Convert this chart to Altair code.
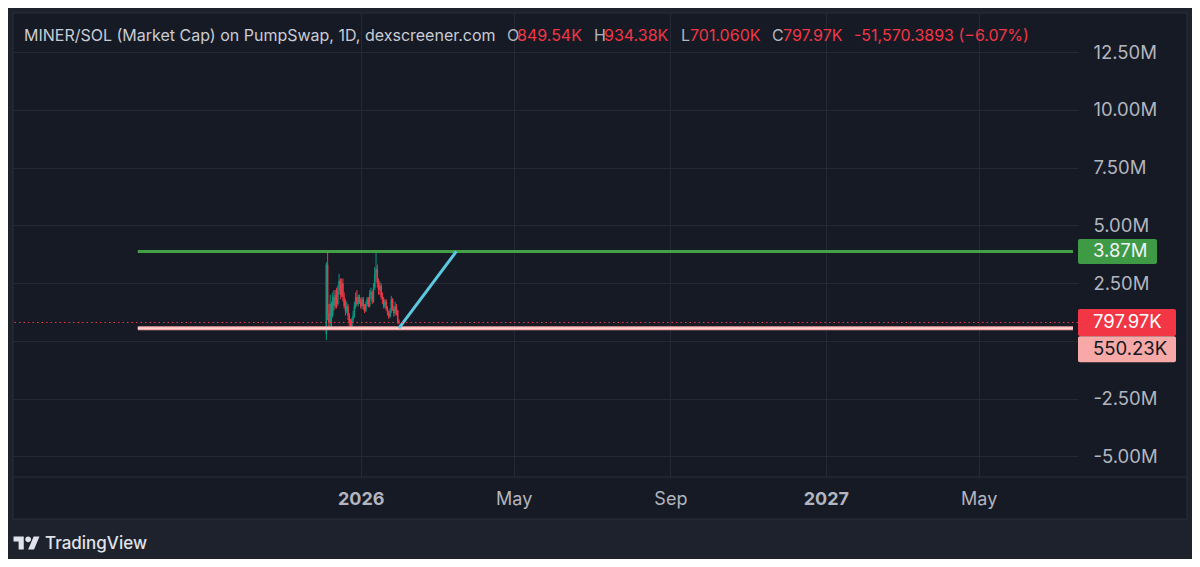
import altair as alt
import pandas as pd

# ---------------- data ----------------
candle_start = "2025-12-05"
opens_m = [0.30, 3.30, 1.20, 0.80, 1.60, 1.10, 1.90, 1.50, 2.00, 1.60,
           2.20, 2.60, 2.00, 2.50, 1.90, 1.50, 1.30, 1.50, 1.10, 0.80,
           0.65, 0.90, 1.10, 1.50, 1.90, 1.60, 1.90, 1.70, 1.50, 1.80,
           1.50, 1.30, 1.60, 1.80, 1.50, 2.00, 2.10, 1.70, 2.30, 2.90,
           3.10, 2.50, 2.20, 2.40, 1.90, 1.80, 1.50, 1.70, 1.40, 1.20,
           1.05, 1.30, 1.80, 1.40, 1.20, 1.50, 1.30, 0.84954]
highs_m = [3.40, 3.87, 1.60, 2.00, 1.70, 2.10, 2.20, 2.20, 2.30, 2.40,
           2.90, 2.70, 2.70, 2.70, 2.10, 1.80, 1.70, 1.60, 1.20, 0.95,
           1.00, 1.30, 1.70, 2.10, 2.20, 2.00, 2.00, 1.85, 1.90, 1.90,
           1.60, 1.70, 1.90, 1.90, 2.20, 2.30, 2.20, 2.50, 3.20, 3.87,
           3.30, 2.70, 2.60, 2.50, 2.10, 1.90, 1.80, 1.80, 1.50, 1.30,
           1.40, 1.95, 1.85, 1.50, 1.70, 1.60, 1.35, 0.93438]
lows_m = [0.04, 0.90, 0.55, 0.60, 0.55, 1.00, 1.30, 1.40, 1.40, 1.50,
          2.00, 1.80, 1.90, 1.70, 1.40, 1.10, 1.20, 0.90, 0.64, 0.60,
          0.60, 0.80, 1.00, 1.40, 1.50, 1.50, 1.60, 1.40, 1.40, 1.35,
          1.20, 1.25, 1.50, 1.45, 1.45, 1.80, 1.60, 1.65, 2.20, 2.60,
          2.30, 2.00, 2.00, 1.80, 1.60, 1.40, 1.40, 1.30, 1.10, 0.95,
          1.00, 1.20, 1.30, 1.05, 1.10, 1.10, 0.75, 0.70106]
closes_m = [3.30, 1.20, 0.80, 1.60, 1.10, 1.90, 1.50, 2.00, 1.60, 2.20,
            2.60, 2.00, 2.50, 1.90, 1.50, 1.30, 1.50, 1.10, 0.80, 0.65,
            0.90, 1.10, 1.50, 1.90, 1.60, 1.90, 1.70, 1.50, 1.80, 1.50,
            1.30, 1.60, 1.80, 1.50, 2.00, 2.10, 1.70, 2.30, 2.90, 3.10,
            2.50, 2.20, 2.40, 1.90, 1.80, 1.50, 1.70, 1.40, 1.20, 1.05,
            1.30, 1.80, 1.40, 1.20, 1.50, 1.30, 0.85, 0.79797]

level_values = [3.87e6, 550.23e3]
level_labels = ["3.87M", "550.23K"]
level_start = "2025-07-10"
level_end = "2027-07-14"

trend_dates = ["2026-01-31", "2026-03-17"]
trend_values = [550.23e3, 3.87e6]

last_close = 797.97e3
last_close_label = "797.97K"

x_domain = ["2025-04-07", "2027-07-14"]
y_domain = [-5.89e6, 14.19e6]
y_ticks = [-5e6, -2.5e6, 0, 2.5e6, 5e6, 7.5e6, 10e6, 12.5e6]
x_ticks = [(2026, 1), (2026, 5), (2026, 9), (2027, 1), (2027, 5)]

title_parts = ["MINER/SOL (Market Cap) on PumpSwap, 1D, dexscreener.com",
               "O", "849.54K", "H", "934.38K", "L", "701.060K",
               "C", "797.97K", "-51,570.3893 (\u22126.07%)"]

# ---------------- style ----------------
W, H = 1065, 464
INNER = "#161A25"
OUTER = "#1E222D"
BORDER = "#2A2E39"
GRID = "#252935"
AXIS_TXT = "#B2B5BE"
UP = "#089981"
DOWN = "#F23645"
FONT = "Inter"
AX_FS = 18.5

dates = pd.date_range(candle_start, periods=len(opens_m), freq="D").strftime("%Y-%m-%d")
candles = pd.DataFrame({
    "date": list(dates),
    "open": [v * 1e6 for v in opens_m],
    "high": [v * 1e6 for v in highs_m],
    "low": [v * 1e6 for v in lows_m],
    "close": [v * 1e6 for v in closes_m],
})
candles["dir"] = ["up" if c >= o else "down" for o, c in zip(candles["open"], candles["close"])]

xscale = alt.Scale(type="utc", domain=x_domain, nice=False)
yscale = alt.Scale(domain=y_domain, nice=False, zero=False)

one = pd.DataFrame({"k": [0]})

x_axis = alt.Axis(
    values=[alt.DateTime(year=y, month=m, date=1, utc=True) for y, m in x_ticks],
    labelExpr="utcFormat(datum.value, '%m') == '01' ? utcFormat(datum.value, '%Y') : utcFormat(datum.value, '%b')",
    labelFontWeight={"condition": {"test": "utcFormat(datum.value, '%m') == '01'", "value": "bold"}, "value": "normal"},
    grid=True, gridColor=GRID, ticks=False, domain=False,
    labelColor=AXIS_TXT, labelFontSize=18, labelFont=FONT, labelPadding=13,
    title=None,
)
y_axis = alt.Axis(
    orient="right", values=y_ticks,
    labelExpr="datum.value == 0 ? '' : (datum.value < 0 ? '-' : '') + format(abs(datum.value) / 1e6, '.2f') + 'M'",
    grid=True, gridColor=GRID, ticks=False, domain=False,
    labelColor=AXIS_TXT, labelFontSize=AX_FS, labelFont=FONT, labelPadding=15,
    labelAlign="left", title=None,
)

# outer strips (frame around the inner panel, footer)
strips = []
for x0, x1, y0, y1 in [(-5, 0, -5, 546), (-5, 1179, -5, 0), (1174, 1179, -5, 546), (-5, 1179, 506, 546)]:
    strips.append(alt.Chart(one).mark_rect(color=OUTER).encode(
        x=alt.value(x0), x2=alt.value(x1), y=alt.value(y0), y2=alt.value(y1)))
frame = alt.Chart(one).mark_rect(fillOpacity=0, stroke=BORDER, strokeWidth=1).encode(
    x=alt.value(0), x2=alt.value(1174), y=alt.value(0), y2=alt.value(506))
sep = alt.Chart(one).mark_rule(color=BORDER, strokeWidth=1).encode(
    x=alt.value(0), x2=alt.value(1174), y=alt.value(464))

color = alt.Color("dir:N", scale=alt.Scale(domain=["up", "down"], range=[UP, DOWN]), legend=None)

wicks = alt.Chart(candles).mark_rule(strokeWidth=1).encode(
    x=alt.X("date:T", scale=xscale, axis=x_axis, title=None),
    y=alt.Y("low:Q", scale=yscale, axis=y_axis, title=None),
    y2="high:Q",
    color=color,
)
bodies = alt.Chart(candles).mark_bar(width=1.5).encode(
    x=alt.X("date:T", title=None),
    y=alt.Y("open:Q", title=None),
    y2="close:Q",
    color=color,
)

levels = pd.DataFrame({"start": [level_start] * 2, "end": [level_end] * 2,
                       "v": level_values, "name": level_labels})
green_line = alt.Chart(levels[levels["name"] == "3.87M"]).mark_rule(color="#43A047", strokeWidth=3).encode(
    x=alt.X("start:T", title=None), x2="end:T", y=alt.Y("v:Q", title=None))
pink_line = alt.Chart(levels[levels["name"] == "550.23K"]).mark_rule(color="#F5A3A3", strokeWidth=4).encode(
    x=alt.X("start:T", title=None), x2="end:T", y=alt.Y("v:Q", title=None))
pink_core = alt.Chart(levels[levels["name"] == "550.23K"]).mark_rule(color="#FCE4E4", strokeWidth=1.2).encode(
    x=alt.X("start:T", title=None), x2="end:T", y=alt.Y("v:Q", title=None))

trend = pd.DataFrame({"d0": [trend_dates[0]], "d1": [trend_dates[1]],
                      "v0": [trend_values[0]], "v1": [trend_values[1]]})
trend_line = alt.Chart(trend).mark_rule(color="#5CC8E0", strokeWidth=3).encode(
    x=alt.X("d0:T", title=None), x2="d1:T", y=alt.Y("v0:Q", title=None), y2="v1:Q")

last = pd.DataFrame({"v": [last_close], "label": [last_close_label]})
dotted = alt.Chart(last).mark_rule(color=DOWN, strokeWidth=1, strokeDash=[1.5, 3]).encode(
    y=alt.Y("v:Q", title=None))

tags = []
tag_specs = [
    (levels[levels["name"] == "3.87M"], "name", 1144, -12.5, 12.5, "#3E9A44", "#F0F3FA", 0),
    (last, "label", 1163, -13.5, 13.5, "#F23645", "#FFFFFF", 0),
    (levels[levels["name"] == "550.23K"], "name", 1163, 8, 34, "#F7A9A8", "#131722", 21),
]
for df, field, x2, o1, o2, bg, fg, dy in tag_specs:
    tags.append(alt.Chart(df).mark_rect(color=bg, cornerRadius=2, yOffset=o1, y2Offset=o2).encode(
        x=alt.value(1065), x2=alt.value(x2), y=alt.Y("v:Q", title=None), y2="v:Q"))
    tags.append(alt.Chart(df).mark_text(align="left", baseline="middle", fontSize=AX_FS, font=FONT,
                                        color=fg, dy=dy).encode(
        x=alt.value(1080), y=alt.Y("v:Q", title=None), text=f"{field}:N"))

title_x = [11, 494, 504, 581, 591, 668, 677, 759, 770, 841]
title_colors = ["#C9CCD4", AXIS_TXT, DOWN, AXIS_TXT, DOWN, AXIS_TXT, DOWN, AXIS_TXT, DOWN, DOWN]
title_layers = []
for txt, px, col in zip(title_parts, title_x, title_colors):
    title_layers.append(alt.Chart(pd.DataFrame({"t": [txt]})).mark_text(
        align="left", baseline="middle", fontSize=16, font=FONT, color=col).encode(
        x=alt.value(px), y=alt.value(23), text="t:N"))

logo_path = ("M-0.211,0.507L-0.606,0.507L-0.606,-0.113L-1,-0.113L-1,-0.507L-0.211,-0.507Z "
             "M0.577,0.507L0.127,0.507L0.549,-0.507L1,-0.507Z "
             "M-0.098,-0.282A0.225,0.225,0,1,0,0.352,-0.282A0.225,0.225,0,1,0,-0.098,-0.282Z")
logo = alt.Chart(one).mark_point(shape=logo_path, filled=True, size=676, color="#E0E3EB", opacity=1).encode(
    x=alt.value(13.5), y=alt.value(530))
brand = alt.Chart(pd.DataFrame({"t": ["TradingView"]})).mark_text(
    align="left", baseline="middle", fontSize=17, font=FONT, fontWeight=500, color="#E0E3EB").encode(
    x=alt.value(32), y=alt.value(531), text="t:N")

chart = alt.layer(
    wicks, bodies, *strips, frame, sep,
    green_line, pink_line, pink_core, trend_line, dotted,
    *tags, *title_layers, logo, brand,
).properties(
    width=W, height=H,
    padding={"left": 5, "top": 5, "right": 114, "bottom": 82},
    autosize=alt.AutoSizeParams(type="none"),
    background=INNER,
).configure_view(fill=INNER, strokeWidth=0)

chart.save("out.html", embed_options={"renderer": "svg", "actions": False})
